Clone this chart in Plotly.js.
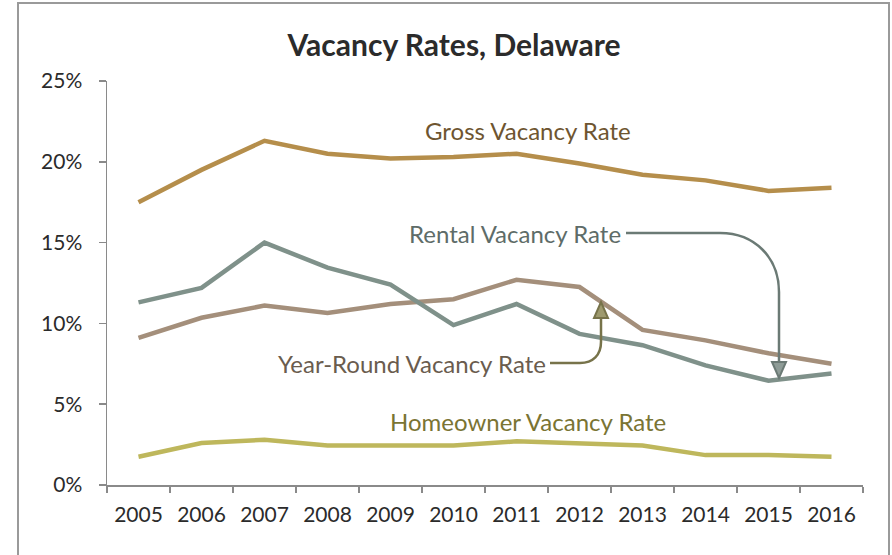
<!DOCTYPE html>
<html>
<head>
<meta charset="utf-8">
<script src="https://cdn.plot.ly/plotly-3.0.1.min.js"></script>
<style>html,body{margin:0;padding:0;background:#fff;}#chart{width:892px;height:555px;}</style>
</head>
<body>
<div id="chart"></div>
<script>
var years = ['2005','2006','2007','2008','2009','2010','2011','2012','2013','2014','2015','2016'];
var grossRate = [17.5, 19.5, 21.3, 20.5, 20.2, 20.3, 20.5, 19.9, 19.2, 18.85, 18.2, 18.4];
var rentalRate = [11.3, 12.2, 15.0, 13.45, 12.4, 9.9, 11.2, 9.35, 8.65, 7.4, 6.45, 6.9];
var yearRoundRate = [9.1, 10.35, 11.1, 10.65, 11.2, 11.5, 12.7, 12.25, 9.6, 8.95, 8.15, 7.5];
var homeownerRate = [1.75, 2.6, 2.8, 2.45, 2.45, 2.45, 2.7, 2.55, 2.45, 1.85, 1.85, 1.75];
var seriesNames = ['Gross Vacancy Rate', 'Rental Vacancy Rate', 'Year-Round Vacancy Rate', 'Homeowner Vacancy Rate'];

var FONT = 'Lato, "Open Sans", sans-serif';
// plot-area geometry in pixels (for annotation placement only)
var L = 107, R = 863, T = 81, B = 485;
function px(x){ return (x - L) / (R - L); }
function py(y){ return (B - y) / (B - T); }
function P(x, y){ return px(x).toFixed(5) + ',' + py(y).toFixed(5); }

function line(name, vals, color){
  return {type:'scatter', mode:'lines', name:name, x:years, y:vals,
    line:{color:color, width:4.5}, hoverinfo:'x+y', showlegend:false};
}
var data = [
  line(seriesNames[3], homeownerRate, '#BEB75C'),
  line(seriesNames[2], yearRoundRate, '#A48F7B'),
  line(seriesNames[1], rentalRate, '#7F918A'),
  line(seriesNames[0], grossRate, '#B58E4B')
];

function ann(text, x, y, color){
  return {xref:'paper', yref:'paper', x:px(x), y:py(y), text:text, showarrow:false,
    xanchor:'center', yanchor:'middle', font:{family:FONT, size:24, color:color}};
}

var layout = {
  width:892, height:555,
  margin:{l:L, r:892-R, t:T, b:555-B, pad:0},
  paper_bgcolor:'#ffffff', plot_bgcolor:'#ffffff',
  showlegend:false,
  title:{text:'<b>Vacancy Rates, Delaware</b>', xref:'container', yref:'container',
    x:454/892, y:1-45/555, xanchor:'center', yanchor:'middle',
    font:{family:FONT, size:30, color:'#2b2b2b'}},
  xaxis:{type:'category', range:[-0.5, 11.5], tickson:'boundaries', ticks:'outside',
    ticklen:6, tickwidth:1.5, tickcolor:'#8a8a8a', showline:true, linecolor:'#8a8a8a', linewidth:1.5,
    showgrid:false, zeroline:false, ticklabelstandoff:10,
    tickfont:{family:FONT, size:21, color:'#2b2b2b'}},
  yaxis:{range:[0,25], dtick:5, tick0:0, ticksuffix:'%', ticks:'outside', ticklen:7, tickwidth:1.5,
    tickcolor:'#8a8a8a', showline:true, linecolor:'#8a8a8a', linewidth:1.5, showgrid:false,
    zeroline:false, ticklabelstandoff:12,
    tickfont:{family:FONT, size:21, color:'#2b2b2b'}},
  annotations:[
    ann(seriesNames[0], 528, 130, '#6E5530'),
    ann(seriesNames[1], 515, 233, '#5E6C68'),
    ann(seriesNames[2], 412, 363, '#6A5C4E'),
    ann(seriesNames[3], 528, 421, '#7A7433')
  ],
  shapes:[
    {type:'rect', xref:'paper', yref:'paper', x0:px(18), x1:px(889), y0:py(3), y1:py(600),
      line:{color:'#9a9a9a', width:2}, fillcolor:'rgba(0,0,0,0)', layer:'below'},
    {type:'path', xref:'paper', yref:'paper',
      path:'M'+P(626,233)+' L'+P(720,233)+' C'+P(755,233)+' '+P(779,258)+' '+P(779,292)+' L'+P(779,362),
      line:{color:'#6B7A75', width:2.5}},
    {type:'path', xref:'paper', yref:'paper',
      path:'M'+P(772,362)+' L'+P(786,362)+' L'+P(779,378)+' Z',
      line:{color:'#6B7A75', width:2}, fillcolor:'#8E9C97'},
    {type:'path', xref:'paper', yref:'paper',
      path:'M'+P(550,363)+' L'+P(580,363)+' C'+P(593,363)+' '+P(601,355)+' '+P(601,342)+' L'+P(601,318),
      line:{color:'#77734A', width:2.5}},
    {type:'path', xref:'paper', yref:'paper',
      path:'M'+P(594,318)+' L'+P(608,318)+' L'+P(601,302)+' Z',
      line:{color:'#77734A', width:2}, fillcolor:'#9E9A6E'}
  ]
};
Plotly.newPlot('chart', data, layout, {displayModeBar:false, staticPlot:true});
</script>
</body>
</html>
